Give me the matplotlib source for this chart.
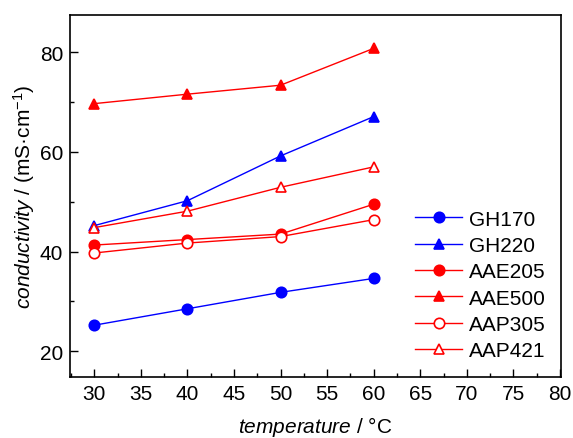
import matplotlib
matplotlib.use('Agg')
from matplotlib import pyplot as plt
from matplotlib.ticker import MultipleLocator

plt.rcParams['font.family'] = ['Liberation Sans', 'DejaVu Sans']
plt.rcParams['mathtext.fontset'] = 'custom'
plt.rcParams['mathtext.rm'] = 'Liberation Sans'
plt.rcParams['mathtext.it'] = 'Liberation Sans:italic'

temperature = [30, 40, 50, 60]
gh170 = [25.2, 28.5, 31.8, 34.6]
gh220 = [45.2, 50.2, 59.2, 67.1]
aae205 = [41.3, 42.4, 43.5, 49.5]
aae500 = [69.7, 71.6, 73.4, 80.8]
aap305 = [39.7, 41.7, 43.0, 46.4]
aap421 = [44.8, 48.1, 52.9, 57.0]

series = [
    ('GH170', gh170, 'blue', 'o', True),
    ('GH220', gh220, 'blue', '^', True),
    ('AAE205', aae205, 'red', 'o', True),
    ('AAE500', aae500, 'red', '^', True),
    ('AAP305', aap305, 'red', 'o', False),
    ('AAP421', aap421, 'red', '^', False),
]

fig = plt.figure(figsize=(5.73, 4.39), dpi=100)
ax = fig.add_axes([70/573, 1 - 378/439, 491/573, 362/439])

for name, vals, col, mk, filled in series:
    ax.plot(temperature, vals, color=col, lw=1, marker=mk, ms=7.5,
            mfc=col if filled else 'white', mec=col, mew=1.2, label=name)

ax.set_xlim(27.4, 80.1)
ax.set_ylim(14.8, 87.5)
ax.xaxis.set_major_locator(MultipleLocator(5))
ax.xaxis.set_minor_locator(MultipleLocator(2.5))
ax.yaxis.set_major_locator(MultipleLocator(20))
ax.yaxis.set_minor_locator(MultipleLocator(10))
ax.tick_params(which='both', direction='in', top=False, right=False, labelsize=15, width=1, pad=5)
ax.tick_params(which='major', length=6)
ax.tick_params(which='minor', length=3)
for s in ax.spines.values():
    s.set_linewidth(1.2)

ax.set_xlabel('$\\mathit{temperature}$ / °C', fontsize=15, labelpad=8)
ax.set_ylabel('$\\mathit{conductivity}$ / (mS·cm$^{-1}$)', fontsize=15, labelpad=2)

ax.legend(loc='upper left', bbox_to_anchor=(0.703, 0.462), frameon=False, fontsize=15,
          handlelength=2.26, labelspacing=0.35, handletextpad=0.33,
          borderpad=0, borderaxespad=0)

fig.savefig('out.png', dpi=100)
